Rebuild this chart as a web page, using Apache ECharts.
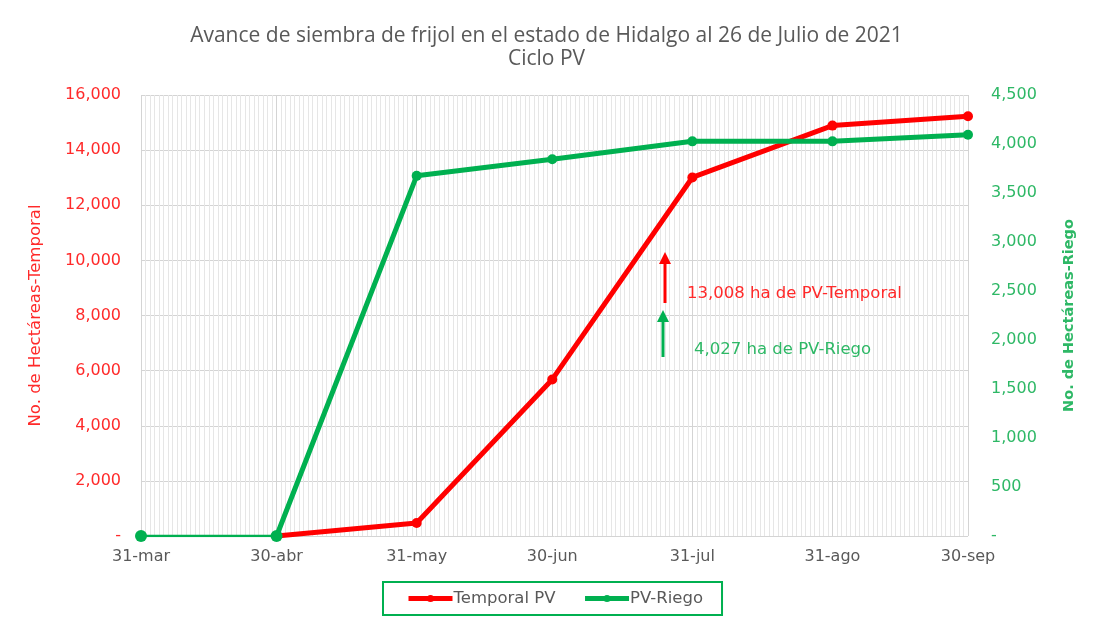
<!DOCTYPE html>
<html><head><meta charset="utf-8">
<script src="https://cdn.jsdelivr.net/npm/echarts@6/dist/echarts.min.js"></script>
<style>html,body{margin:0;padding:0;background:#fff}#c{width:1093px;height:625px}</style>
</head><body><div id="c"></div>
<script>
const categories = ['31-mar','30-abr','31-may','30-jun','31-jul','31-ago','30-sep'];
const dates = ['2021-03-31','2021-04-30','2021-05-31','2021-06-30','2021-07-31','2021-08-31','2021-09-30'];
const temporal = [null, 0, 470, 5680, 13008, 14890, 15230];
const riego = [0, 0, 3675, 3845, 4027, 4027, 4095];

const DAY = 86400000;
const t0 = Date.parse(dates[0]);
const days = dates.map(d => Math.round((Date.parse(d) - t0) / DAY));
const RED = '#FF0000', GREEN = '#00B050';
const LRED = '#FF2A2A', LGREEN = '#2EB866';
const fmt = v => v === 0 ? '-' : v.toLocaleString('en-US');
const FONT = 'DejaVu Sans';

const chart = echarts.init(document.getElementById('c'), null, {renderer:'canvas'});
chart.setOption({
  animation:false,
  backgroundColor:'#fff',
  title:{
    text:'Avance de siembra de frijol en el estado de Hidalgo al 26 de Julio de 2021\nCiclo PV',
    left:'center', top:20,
    textStyle:{fontFamily:'Open Sans', fontSize:21, fontWeight:'normal', color:'#595959', lineHeight:23}
  },
  grid:{left:141, right:125, top:95, bottom:89, containLabel:false},
  legend:{
    left:383, top:582, data:['Temporal PV','PV-Riego'],
    borderColor:GREEN, borderWidth:2, padding:[8,19,8,23], itemGap:27,
    itemWidth:44, itemHeight:9,
    itemStyle:{borderWidth:0}, lineStyle:{width:5},
    textStyle:{fontFamily:FONT, fontSize:16.5, color:'#595959', padding:[0,0,0,-4]}
  },
  xAxis:[{
    type:'value', min:days[0], max:days[days.length-1],
    axisLine:{show:false}, axisTick:{show:false, customValues:days},
    axisLabel:{customValues:days, formatter:v => categories[days.indexOf(Math.round(v))] || '',
      fontFamily:FONT, fontSize:16, color:'#595959', margin:13},
    splitLine:{show:true, lineStyle:{color:'#d4d4d4', width:1}}, z:1
  },{
    type:'value', min:days[0], max:days[days.length-1], interval:1,
    axisLine:{show:false}, axisTick:{show:false}, axisLabel:{show:false},
    splitLine:{show:true, lineStyle:{color:'#e6e6e6', width:1}}, z:0
  }],
  yAxis:[{
    type:'value', min:0, max:16000, interval:2000, position:'left',
    name:'No. de Hectáreas-Temporal', nameLocation:'middle', nameGap:97, nameRotate:90,
    nameTextStyle:{fontFamily:FONT, fontSize:16.5, color:LRED},
    axisLine:{show:false}, axisTick:{show:false},
    axisLabel:{formatter:fmt, fontFamily:FONT, fontSize:16, color:LRED, margin:20},
    splitLine:{show:true, lineStyle:{color:'#d4d4d4'}}
  },{
    type:'value', min:0, max:4500, interval:500, position:'right',
    name:'No. de Hectáreas-Riego', nameLocation:'middle', nameGap:94, nameRotate:90,
    nameTextStyle:{fontFamily:FONT, fontSize:14.5, fontWeight:'bold', color:LGREEN},
    axisLine:{show:false}, axisTick:{show:false},
    axisLabel:{formatter:fmt, fontFamily:FONT, fontSize:16, color:LGREEN, margin:23},
    splitLine:{show:false}
  }],
  series:[
    {name:'Temporal PV', type:'line', xAxisIndex:0, yAxisIndex:0, z:3,
     data:days.map((d,i) => [d, temporal[i]]),
     lineStyle:{color:RED, width:5}, itemStyle:{color:RED},
     symbol:'circle', symbolSize:10, showSymbol:true},
    {name:'PV-Riego', type:'line', xAxisIndex:0, yAxisIndex:1, z:4,
     data:days.map((d,i) => [d, i === 0 ? null : riego[i]]),
     lineStyle:{color:GREEN, width:5}, itemStyle:{color:GREEN},
     symbol:'circle', symbolSize:10, showSymbol:true},
    {name:'riego-inicio', type:'line', xAxisIndex:0, yAxisIndex:1, z:4,
     data:days.slice(0,2).map((d,i) => [d, riego[i]]),
     lineStyle:{color:GREEN, width:2.5}, itemStyle:{color:GREEN},
     symbol:'circle', symbolSize:12, showSymbol:true}
  ],
  graphic:{elements:[
    {type:'rect', z:100, shape:{x:663.5, y:262, width:3, height:41}, style:{fill:RED}},
    {type:'polygon', z:100, shape:{points:[[659,264],[665,252],[671,264]]}, style:{fill:RED}},
    {type:'text', z:100, x:687, y:285, style:{text:'13,008 ha de PV-Temporal', fill:LRED, fontFamily:FONT, fontSize:16.5}},
    {type:'rect', z:100, shape:{x:661.5, y:320, width:3, height:37}, style:{fill:GREEN}},
    {type:'polygon', z:100, shape:{points:[[657,322],[663,310],[669,322]]}, style:{fill:GREEN}},
    {type:'text', z:100, x:694, y:341, style:{text:'4,027 ha de PV-Riego', fill:LGREEN, fontFamily:FONT, fontSize:16.5}}
  ]}
});
</script></body></html>
